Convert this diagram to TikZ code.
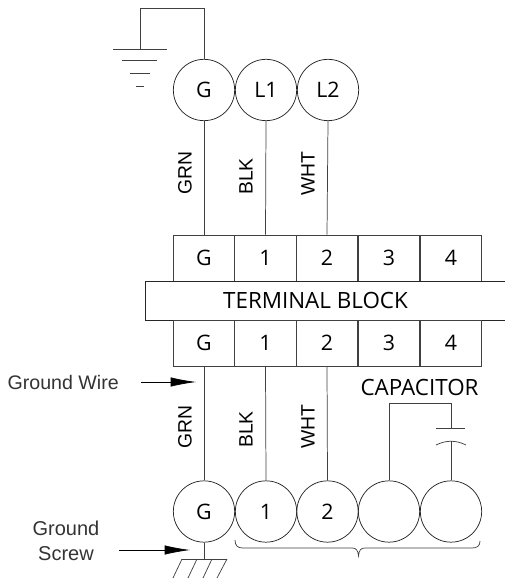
\documentclass[tikz,border=0pt]{standalone}
\usepackage{fontspec}
\setmainfont{Open Sans}
\newfontfamily\lab{Liberation Sans}
\usetikzlibrary{arrows.meta}
\tikzset{
 wire/.style={draw=black!75,line width=0.55pt},
 term/.style={circle,draw=black!85,line width=0.55pt,minimum size=46pt,inner sep=0,font=\fontsize{16}{16}\selectfont},
 cell/.style={rectangle,draw=black!75,line width=0.55pt,minimum width=46.1pt,minimum height=34.5pt,inner sep=0,font=\fontsize{16}{16}\selectfont},
 wlab/.style={rotate=90,anchor=west,inner sep=0,font=\lab\fontsize{14.5}{14.5}\selectfont},
 note/.style={inner sep=0,text=black!80,align=center,font=\lab\fontsize{15}{18.75}\selectfont},
 biglab/.style={inner sep=0,font=\fontsize{16.8}{16.8}\selectfont},
 arr/.style={draw=black,line width=0.5pt,-{Latex[length=19pt,width=7pt]}}
}
\begin{document}
\begin{tikzpicture}[x=0.75pt,y=-0.75pt]
\useasboundingbox (0,0) rectangle (505,580);
% top terminals
\node[term] (tg) at (204,90) {G};
\node[term] (tl) at (266,90) {L1};
\node[term] (tr) at (328,90) {L2};
% ground symbol
\coordinate (gtop) at (140,49);
\draw[wire] (tg.north) -- (204,8) -- (140,8) -- (gtop);
\draw[wire] (113,49) -- (167,49);
\draw[wire] (122,60) -- (157,60);
\draw[wire] (130,73) -- (150,73);
\draw[wire] (136,86) -- (144,86);
% top row
\node[cell] (a0) at (204,258) {G};
\node[cell] (a1) at (265.5,258) {1};
\node[cell] (a2) at (327,258) {2};
\node[cell] (a3) at (389,258) {3};
\node[cell] (a4) at (451,258) {4};
% terminal block (right edge runs off the page)
\node[rectangle,draw=black!85,line width=0.55pt,minimum width=273pt,minimum height=29.25pt,inner sep=0] (tb) at (327,300.5) {};
\node[biglab] (tbl) at (315.5,300.5) {TERMINAL BLOCK};
% bottom row
\node[cell] (b0) at (204,343) {G};
\node[cell] (b1) at (265.5,343) {1};
\node[cell] (b2) at (327,343) {2};
\node[cell] (b3) at (389,343) {3};
\node[cell] (b4) at (451,343) {4};
% wires top
\draw[wire] (tg.south) -- (a0.north);
\draw[wire] (tl.south) -- (a1.north);
\draw[wire] (tr.south) -- (a2.north);
\node[term] (c0) at (204,511.5) {G};
\node[term] (c1) at (266,511.5) {1};
\node[term] (c2) at (327.5,511.5) {2};
\node[term] (c3) at (389,511.5) {};
\node[term] (c4) at (451,511.5) {};
\draw[wire] (b0.south) -- (c0.north);
\draw[wire] (b1.south) -- (c1.north);
\draw[wire] (b2.south) -- (c2.north);
% capacitor
\draw[wire] (c3.north) -- (389,403) -- (451,403) -- (451,428);
\draw[wire] (436,428) -- (465,428);
\draw[wire] (c4.north) -- (451,441);
\draw[wire] (436,445) .. controls (446,440) and (456,440) .. (466,445);
% labels
\node[wlab] at (185,195) {GRN};
\node[wlab] at (246,195) {BLK};
\node[wlab] at (308,196) {WHT};
\node[wlab] at (185,449) {GRN};
\node[wlab] at (246,448) {BLK};
\node[wlab] at (308,449) {WHT};
\node[biglab] at (419.5,387) {CAPACITOR};
\node[note,anchor=east,font=\lab\fontsize{14.7}{18}\selectfont] (gw) at (119,382) {Ground Wire};
\draw[arr] (141,382) -- (196,382);
\node[note] (gs) at (66,540.5) {Ground\\Screw};
\draw[arr] (119,550) -- (190,550);
% ground screw
\draw[wire] (c0.south) -- (204,559);
\draw[wire] (182,559) -- (227,559);
\draw[wire] (182,559) -- (173,578);
\draw[wire] (197,559) -- (188,578);
\draw[wire] (212,559) -- (203,578);
\draw[wire] (227,559) -- (217,578);
% brace
\draw[wire] (235,540) .. controls (235,546) and (238,548) .. (243,548) -- (352,548) .. controls (356,548) and (358,550) .. (358.5,556) .. controls (359,550) and (361,548) .. (365,548) -- (472,548) .. controls (477,548) and (480,546) .. (480,541);
\end{tikzpicture}
\end{document}
